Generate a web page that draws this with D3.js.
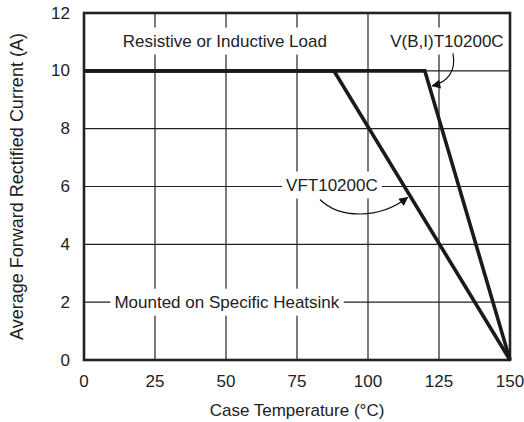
<!DOCTYPE html>
<html><head><meta charset="utf-8">
<script src="https://cdn.jsdelivr.net/npm/d3@7"></script>
<style>
body{margin:0;background:#fff;}
text{font-family:"Liberation Sans",Arial,Helvetica,sans-serif;fill:#222;}
</style></head>
<body><svg id="c" width="524" height="422"></svg>
<script>
const xTicks=[0,25,50,75,100,125,150];
const yTicks=[0,2,4,6,8,10,12];
const seriesVFT=[[0,10],[88,10],[150,0]];
const seriesVBIT=[[0,10],[120,10],[150,0]];
const labels=[
 {t:"Resistive or Inductive Load",x:49.6,y:11.03},
 {t:"V(B,I)T10200C",x:127.8,y:11.03},
 {t:"VFT10200C",x:87.3,y:6.05},
 {t:"Mounted on Specific Heatsink",x:50.3,y:2.0}
];
const svg=d3.select("#c");
const m={l:84,r:14,t:13,b:62};
const W=524,H=422;
const FS=17;
const x=d3.scaleLinear().domain([0,150]).range([m.l,W-m.r]);
const y=d3.scaleLinear().domain([0,12]).range([H-m.b,m.t]);
const g=svg.append("g");
// grid
g.selectAll(".gx").data(xTicks.slice(1,-1)).enter().append("line")
 .attr("x1",d=>x(d)).attr("x2",d=>x(d)).attr("y1",y(0)).attr("y2",y(12))
 .attr("stroke","#222").attr("stroke-width",1.2);
g.selectAll(".gy").data(yTicks.slice(1,-1)).enter().append("line")
 .attr("x1",x(0)).attr("x2",x(150)).attr("y1",d=>y(d)).attr("y2",d=>y(d))
 .attr("stroke","#222").attr("stroke-width",1.2);
// labels with white background
const lg=svg.append("g");
labels.forEach(l=>{
 const t=lg.append("text").attr("x",x(l.x)).attr("y",y(l.y)).attr("text-anchor","middle")
  .attr("dominant-baseline","central").attr("font-size",FS).text(l.t);
 const bb=t.node().getBBox();
 lg.insert("rect","text").attr("x",bb.x-4).attr("y",bb.y-4).attr("width",bb.width+8).attr("height",bb.height+8).attr("fill","#fff");
});
// frame
svg.append("rect").attr("x",x(0)).attr("y",y(12)).attr("width",x(150)-x(0)).attr("height",y(0)-y(12))
 .attr("fill","none").attr("stroke","#222").attr("stroke-width",2.6);
// curves
const line=d3.line().x(d=>x(d[0])).y(d=>y(d[1]));
[seriesVFT,seriesVBIT].forEach(s=>{
 svg.append("path").attr("d",line(s)).attr("fill","none").attr("stroke","#1a1a1a").attr("stroke-width",3.6).attr("stroke-linejoin","miter");
});
// arrows
svg.append("defs").append("marker").attr("id","ah").attr("viewBox","0 0 10 10").attr("refX",9).attr("refY",5)
 .attr("markerWidth",15).attr("markerHeight",9).attr("markerUnits","userSpaceOnUse").attr("orient","auto")
 .append("path").attr("d","M0,0L10,5L0,10Z").attr("fill","#111");
svg.append("path").attr("d",`M${x(129.9)},${y(10.6)} C${x(131.2)},${y(10.0)} ${x(128)},${y(9.6)} ${x(122.6)},${y(9.48)}`)
 .attr("fill","none").attr("stroke","#111").attr("stroke-width",1.2).attr("marker-end","url(#ah)");
svg.append("path").attr("d",`M${x(83.1)},${y(5.55)} C${x(90)},${y(4.87)} ${x(104)},${y(4.87)} ${x(113.9)},${y(5.62)}`)
 .attr("fill","none").attr("stroke","#111").attr("stroke-width",1.2).attr("marker-end","url(#ah)");
// tick labels
svg.selectAll(".xt").data(xTicks).enter().append("text").attr("x",d=>x(d)).attr("y",y(0)+27)
 .attr("text-anchor","middle").attr("font-size",FS).text(d=>d);
svg.selectAll(".yt").data(yTicks).enter().append("text").attr("x",x(0)-14).attr("y",d=>y(d)).attr("dominant-baseline","central")
 .attr("text-anchor","end").attr("font-size",FS).text(d=>d);
svg.append("text").attr("x",(x(0)+x(150))/2).attr("y",y(0)+56).attr("text-anchor","middle").attr("font-size",FS).text("Case Temperature (°C)");
svg.append("text").attr("transform",`translate(16.5,${(y(0)+y(12))/2}) rotate(-90)`).attr("text-anchor","middle")
 .attr("dominant-baseline","central").attr("font-size",18).text("Average Forward Rectified Current (A)");
</script></body></html>
